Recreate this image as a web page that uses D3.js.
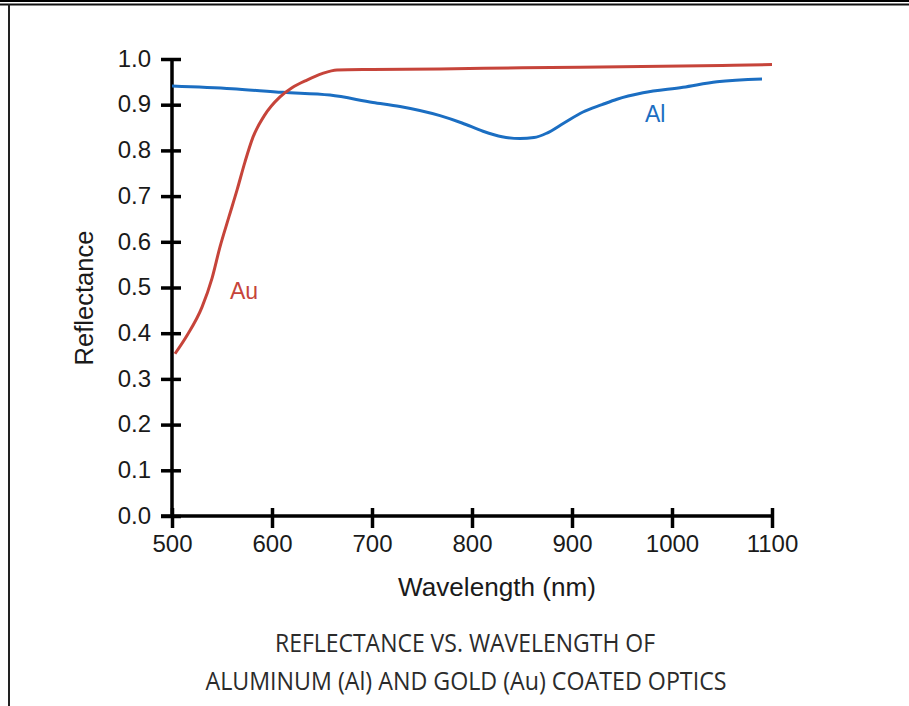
<!DOCTYPE html>
<html>
<head>
<meta charset="utf-8">
<script src="https://cdn.jsdelivr.net/npm/d3@7"></script>
<style>
  body { margin: 0; background: #fff; }
  svg { display: block; }
  .tick text { font-family: "Liberation Sans", Arial, sans-serif; font-size: 24px; fill: #1a1a1a; }
</style>
</head>
<body>
<div id="chart"></div>
<script>
// Chart data (wavelength nm, reflectance)
var auWavelength = [503, 515, 530, 540, 548, 557, 565, 573, 581, 592, 608, 620, 635, 650, 665, 700, 768, 850, 950, 1050, 1100];
var auReflectance = [0.355, 0.395, 0.457, 0.52, 0.589, 0.655, 0.713, 0.775, 0.829, 0.875, 0.917, 0.937, 0.954, 0.968, 0.976, 0.977, 0.978, 0.981, 0.983, 0.986, 0.988];

var alWavelength = [500, 560, 611, 658, 701, 728, 768, 790, 811, 830, 848, 862, 875, 892, 911, 930, 945, 971, 1011, 1045, 1090];
var alReflectance = [0.941, 0.935, 0.927, 0.921, 0.905, 0.896, 0.876, 0.86, 0.842, 0.83, 0.826, 0.828, 0.838, 0.86, 0.884, 0.9, 0.912, 0.926, 0.938, 0.95, 0.956];

var xTicks = [500, 600, 700, 800, 900, 1000, 1100];
var yTicks = [0, 0.1, 0.2, 0.3, 0.4, 0.5, 0.6, 0.7, 0.8, 0.9, 1.0];

var svgWidth = 909;
var svgHeight = 706;

var chartMargin = { top: 59, left: 172 };
var chartWidth = 600;
var chartHeight = 457;

var svg = d3.select("#chart")
  .append("svg")
  .attr("width", svgWidth)
  .attr("height", svgHeight);

// frame: double line on top, single line on the left
svg.append("rect").attr("x", 0).attr("y", 0).attr("width", svgWidth).attr("height", 2).attr("fill", "#000");
svg.append("rect").attr("x", 0).attr("y", 3.5).attr("width", svgWidth).attr("height", 2).attr("fill", "#111");
svg.append("rect").attr("x", 8).attr("y", 4).attr("width", 2).attr("height", svgHeight).attr("fill", "#222");

var chartGroup = svg.append("g")
  .attr("transform", `translate(${chartMargin.left}, ${chartMargin.top})`);

var xScale = d3.scaleLinear().domain([500, 1100]).range([0, chartWidth]);
var yScale = d3.scaleLinear().domain([0, 1]).range([chartHeight, 0]);

// y axis: ticks cross the axis line
var leftAxis = d3.axisLeft(yScale)
  .tickValues(yTicks)
  .tickFormat(d3.format(".1f"))
  .tickSize(0)
  .tickPadding(21);

var yAxisG = chartGroup.append("g").call(leftAxis);
yAxisG.select(".domain").remove();
yAxisG.selectAll(".tick").append("line")
  .attr("x1", -11).attr("x2", 9)
  .attr("stroke", "#000").attr("stroke-width", 3.5);
yAxisG.selectAll(".tick text").attr("dy", "0.3em");

var bottomAxis = d3.axisBottom(xScale)
  .tickValues(xTicks)
  .tickFormat(d3.format("d"))
  .tickSize(0)
  .tickPadding(19);

var xAxisG = chartGroup.append("g")
  .attr("transform", `translate(0, ${chartHeight})`)
  .call(bottomAxis);
xAxisG.select(".domain").remove();
xAxisG.selectAll(".tick").append("line")
  .attr("y1", -8).attr("y2", 12)
  .attr("stroke", "#000").attr("stroke-width", 3.5);

// axis lines
chartGroup.append("line")
  .attr("x1", 0).attr("x2", 0)
  .attr("y1", yScale(1)).attr("y2", chartHeight + 1.5)
  .attr("stroke", "#000").attr("stroke-width", 3.5);
chartGroup.append("line")
  .attr("x1", -11).attr("x2", xScale(1100) + 1.5)
  .attr("y1", chartHeight).attr("y2", chartHeight)
  .attr("stroke", "#000").attr("stroke-width", 3.5);

var drawLine = d3.line()
  .x(d => xScale(d[0]))
  .y(d => yScale(d[1]))
  .curve(d3.curveMonotoneX);

var auData = auWavelength.map((w, i) => [w, auReflectance[i]]);
var alData = alWavelength.map((w, i) => [w, alReflectance[i]]);

chartGroup.append("path")
  .attr("d", drawLine(alData))
  .attr("fill", "none")
  .attr("stroke", "#1b6ec2")
  .attr("stroke-width", 3);

chartGroup.append("path")
  .attr("d", drawLine(auData))
  .attr("fill", "none")
  .attr("stroke", "#c6443a")
  .attr("stroke-width", 3);

// series labels
chartGroup.append("text")
  .attr("x", xScale(558)).attr("y", yScale(0.475))
  .style("font-family", "Liberation Sans, Arial, sans-serif")
  .style("font-size", "23px")
  .attr("fill", "#c6443a")
  .text("Au");

chartGroup.append("text")
  .attr("x", xScale(973)).attr("y", yScale(0.862))
  .style("font-family", "Liberation Sans, Arial, sans-serif")
  .style("font-size", "23px")
  .attr("fill", "#1b6ec2")
  .text("Al");

// axis titles
svg.append("text")
  .attr("x", 497).attr("y", 596)
  .style("text-anchor", "middle")
  .style("font-family", "Liberation Sans, Arial, sans-serif")
  .style("font-size", "25px")
  .attr("fill", "#1a1a1a")
  .attr("textLength", 198)
  .attr("lengthAdjust", "spacingAndGlyphs")
  .text("Wavelength (nm)");

svg.append("text")
  .attr("transform", "translate(93, 298) rotate(-90)")
  .style("text-anchor", "middle")
  .style("font-family", "Liberation Sans, Arial, sans-serif")
  .style("font-size", "25px")
  .attr("fill", "#1a1a1a")
  .attr("textLength", 135)
  .attr("lengthAdjust", "spacingAndGlyphs")
  .text("Reflectance");

// caption
svg.append("text")
  .attr("x", 465).attr("y", 652)
  .style("text-anchor", "middle")
  .style("font-family", "Open Sans, sans-serif")
  .style("font-size", "25px")
  .attr("fill", "#2b2b2b")
  .attr("textLength", 380)
  .attr("lengthAdjust", "spacingAndGlyphs")
  .text("REFLECTANCE VS. WAVELENGTH OF");

svg.append("text")
  .attr("x", 466).attr("y", 690)
  .style("text-anchor", "middle")
  .style("font-family", "Open Sans, sans-serif")
  .style("font-size", "25px")
  .attr("fill", "#2b2b2b")
  .attr("textLength", 521)
  .attr("lengthAdjust", "spacingAndGlyphs")
  .text("ALUMINUM (Al) AND GOLD (Au) COATED OPTICS");
</script>
</body>
</html>
